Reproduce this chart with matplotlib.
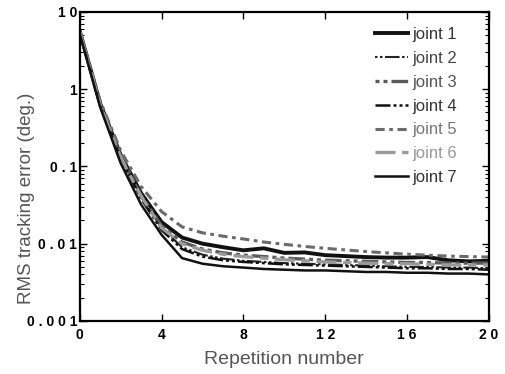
import matplotlib
matplotlib.use("Agg")
import matplotlib.pyplot as plt
import numpy as np

reps = list(range(21))
joint1 = [5.6, 0.65, 0.14, 0.045, 0.019, 0.0120, 0.0100, 0.0090, 0.0082, 0.0087, 0.0076, 0.0077, 0.0071, 0.0069, 0.0067, 0.0066, 0.0066, 0.0067, 0.0061, 0.0059, 0.0060]
joint2 = [5.4, 0.61, 0.13, 0.040, 0.016, 0.0090, 0.0072, 0.0064, 0.0060, 0.0058, 0.0056, 0.0055, 0.0054, 0.0053, 0.0052, 0.0051, 0.0050, 0.0050, 0.0049, 0.0049, 0.0048]
joint3 = [5.5, 0.63, 0.135, 0.042, 0.017, 0.0105, 0.0085, 0.0076, 0.0071, 0.0068, 0.0065, 0.0063, 0.0061, 0.0060, 0.0059, 0.0058, 0.0057, 0.0057, 0.0056, 0.0056, 0.0056]
joint4 = [5.3, 0.60, 0.125, 0.038, 0.015, 0.0085, 0.0068, 0.0061, 0.0058, 0.0056, 0.0054, 0.0053, 0.0052, 0.0051, 0.0050, 0.0049, 0.0048, 0.0048, 0.0047, 0.0047, 0.0046]
joint5 = [5.8, 0.70, 0.16, 0.055, 0.026, 0.0165, 0.0138, 0.0125, 0.0115, 0.0105, 0.0098, 0.0092, 0.0087, 0.0083, 0.0079, 0.0076, 0.0073, 0.0071, 0.0069, 0.0068, 0.0067]
joint6 = [5.4, 0.62, 0.13, 0.041, 0.016, 0.0100, 0.0082, 0.0073, 0.0068, 0.0065, 0.0062, 0.0060, 0.0058, 0.0057, 0.0056, 0.0055, 0.0055, 0.0054, 0.0053, 0.0053, 0.0053]
joint7 = [5.2, 0.58, 0.11, 0.032, 0.013, 0.0065, 0.0055, 0.0051, 0.0049, 0.0047, 0.0046, 0.0045, 0.0045, 0.0044, 0.0043, 0.0043, 0.0042, 0.0042, 0.0041, 0.0041, 0.0040]
labels = ["joint 1", "joint 2", "joint 3", "joint 4", "joint 5", "joint 6", "joint 7"]
xticks = [0, 4, 8, 12, 16, 20]
xticklabels = ["0", "4", "8", "1 2", "1 6", "2 0"]
yticks = [0.001, 0.01, 0.1, 1, 10]
yticklabels = ["0 . 0 0 1", "0 . 0 1", "0 . 1", "1", "1 0"]

series = [joint1, joint2, joint3, joint4, joint5, joint6, joint7]
styles = [
    dict(color="#111111", lw=2.8, ls="-"),
    dict(color="#222222", lw=1.5, ls=(0, (1.2, 1.2, 1.2, 1.2, 7, 1.2))),
    dict(color="#5a5a5a", lw=2.4, ls=(0, (1.2, 1.2, 1.2, 1.2, 5, 1.2))),
    dict(color="#111111", lw=1.8, ls=(0, (6, 1.2, 1.2, 1.2, 1.2, 1.2))),
    dict(color="#6a6a6a", lw=2.2, ls=(0, (3, 1.5, 1.2, 1.5))),
    dict(color="#9a9a9a", lw=2.4, ls=(0, (6, 2, 2.5, 2))),
    dict(color="#111111", lw=1.8, ls="-"),
]
textcolors = ["#333333", "#444444", "#555555", "#333333", "#777777", "#999999", "#333333"]

plt.rcParams["font.family"] = ["Liberation Sans", "DejaVu Sans"]
fig = plt.figure(figsize=(5.05, 3.74), dpi=100)
ax = fig.add_axes([0.158, 0.142, 0.810, 0.826])

for s, lab, st in zip(series, labels, styles):
    ax.plot(reps, s, label=lab, **st)

ax.set_yscale("log")
ax.set_xlim(0, 20)
ax.set_ylim(0.001, 10)
ax.set_xticks(xticks)
ax.set_xticklabels(xticklabels, fontweight="bold", fontsize=10)
ax.set_yticks(yticks)
ax.set_yticklabels(yticklabels, fontweight="bold", fontsize=10)
ax.tick_params(which="both", direction="in", top=True, right=True)
ax.tick_params(which="major", length=5, width=1)
ax.tick_params(which="minor", length=3, width=0.8)
ax.tick_params(axis="x", pad=5)
ax.tick_params(axis="y", pad=2)
for sp in ax.spines.values():
    sp.set_linewidth(1.6)

fig.text(284 / 505, 1 - 360 / 374, "Repetition number", fontsize=14, color="#555555",
         ha="center", va="center")
fig.text(27 / 505, 1 - 198 / 374, "RMS tracking error (deg.)", fontsize=13.5, color="#555555",
         ha="center", va="center", rotation=90)

leg = ax.legend(loc="upper right", bbox_to_anchor=(0.922, 0.950), bbox_transform=fig.transFigure,
                frameon=False, fontsize=12, handlelength=2.0, handletextpad=0.25,
                labelspacing=0.53, borderpad=0)
for t, c in zip(leg.get_texts(), textcolors):
    t.set_color(c)

fig.savefig("out.png", dpi=100)
